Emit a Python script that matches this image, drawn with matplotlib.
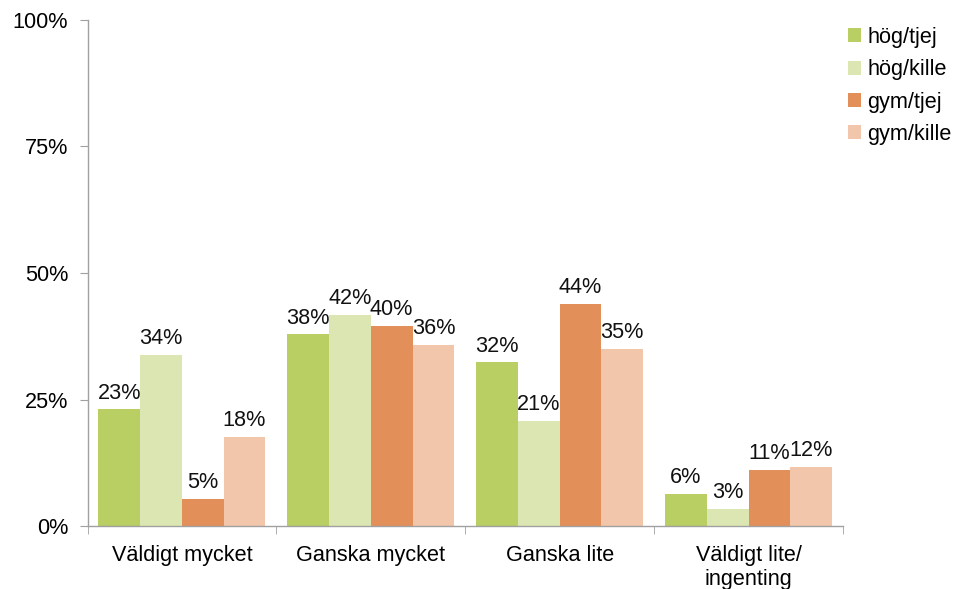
import matplotlib
matplotlib.use("Agg")
import matplotlib.pyplot as plt
import numpy as np
from matplotlib.ticker import FixedLocator, PercentFormatter

plt.rcParams['font.family'] = ['Liberation Sans', 'DejaVu Sans']

categories = ["Väldigt mycket", "Ganska mycket", "Ganska lite", "Väldigt lite/\ningenting"]
series_names = ["hög/tjej", "hög/kille", "gym/tjej", "gym/kille"]
hog_tjej = [23.1, 37.9, 32.4, 6.4]
hog_kille = [33.8, 41.7, 20.8, 3.4]
gym_tjej = [5.4, 39.6, 43.9, 11.1]
gym_kille = [17.6, 35.8, 35.0, 11.7]
yticks = [0, 25, 50, 75, 100]

colors = ["#B9CE63", "#DCE6B2", "#E28F5A", "#F1C6AA"]
series = [hog_tjej, hog_kille, gym_tjej, gym_kille]
FS = 15.6

fig = plt.figure(figsize=(9.55, 5.89), dpi=100)
ax = fig.add_axes([87.5/955, 1-526/589, (843-87.5)/955, (526-20)/589])

x = np.arange(len(categories))
w = 0.221
for i, (vals, c, name) in enumerate(zip(series, colors, series_names)):
    pos = x + (i - 1.5) * w
    bars = ax.bar(pos, vals, width=w, color=c, label=name, edgecolor='none')
    for b, v in zip(bars, vals):
        ax.annotate(f"{round(v)}%", (b.get_x() + b.get_width()/2, v),
                    xytext=(0, 4), textcoords='offset points',
                    ha='center', va='bottom', fontsize=FS, color='#111111')

ax.set_xlim(-0.5, len(categories) - 0.5)
ax.set_ylim(0, 100)
ax.set_yticks(yticks)
ax.yaxis.set_major_formatter(PercentFormatter(decimals=0))
ax.set_xticks(x)
ax.set_xticklabels(categories, fontsize=FS, linespacing=1.15)
ax.xaxis.set_minor_locator(FixedLocator(np.arange(-0.5, len(categories), 1.0)))
ax.tick_params(axis='x', which='major', length=0, pad=14)
ax.tick_params(axis='x', which='minor', length=6, direction='out', color='#A0A0A0')
ax.tick_params(axis='y', labelsize=FS, length=6, color='#A0A0A0', pad=8)

for s in ['top', 'right']:
    ax.spines[s].set_visible(False)
for s in ['left', 'bottom']:
    ax.spines[s].set_color('#A0A0A0')
    ax.spines[s].set_linewidth(1.0)

leg = ax.legend(loc='upper left', bbox_to_anchor=(848/955, 1-27/589), bbox_transform=fig.transFigure,
                frameon=False, fontsize=FS, handlelength=0.6, handleheight=0.6,
                handletextpad=0.3, labelspacing=0.52, borderaxespad=0, borderpad=0)

fig.savefig("out.png", dpi=100)
